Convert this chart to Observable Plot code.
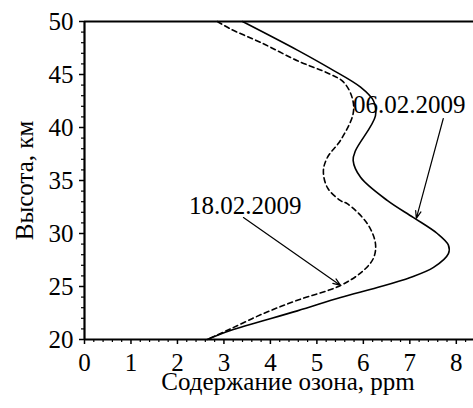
<!DOCTYPE html>
<html>
<head>
<meta charset="utf-8">
<script src="https://cdn.jsdelivr.net/npm/d3@7"></script>
<script src="https://cdn.jsdelivr.net/npm/@observablehq/plot@0.6"></script>
<style>
  html, body { margin: 0; padding: 0; background: #fff; }
  svg, svg text { font-family: "Liberation Serif", "Times New Roman", serif !important; }
</style>
</head>
<body>
<div id="chart"></div>
<script>
// 06.02.2009 profile (solid)
const solidX = [3.40, 4.58, 5.29, 5.94, 6.22, 6.26, 5.83, 5.78, 5.94, 6.52, 7.08, 7.59, 7.83, 7.83, 7.51, 7.01, 6.30, 5.51, 4.58, 3.14, 2.64];
const solidY = [50.0, 47.3, 45.55, 43.8, 42.5, 41.1, 37.8, 36.9, 35.3, 33.1, 31.5, 30.0, 28.9, 28.1, 26.8, 25.85, 24.9, 23.96, 22.7, 20.85, 20.0];
// 18.02.2009 profile (dashed)
const dashX = [2.86, 3.14, 3.85, 4.58, 5.25, 5.57, 5.76, 5.78, 5.51, 5.23, 5.14, 5.23, 5.51, 5.66, 6.09, 6.26, 6.22, 6.00, 5.51, 4.58, 3.85, 3.14, 2.64];
const dashY = [50.0, 49.3, 47.9, 46.3, 45.1, 44.3, 42.8, 41.3, 38.8, 37.2, 35.9, 34.3, 33.1, 32.8, 30.9, 29.06, 27.7, 26.5, 25.1, 23.7, 22.45, 21.0, 20.0];

const labels = ["06.02.2009", "18.02.2009"];
const labelX = [6.99, 3.46];
const labelY = [42.1, 32.6];
const arrowX1 = [7.72, 3.42];
const arrowY1 = [40.85, 31.5];
const arrowX2 = [7.14, 5.51];
const arrowY2 = [31.42, 25.1];

const xTicks = [0, 1, 2, 3, 4, 5, 6, 7, 8];
const yTicks = [20, 25, 30, 35, 40, 45, 50];
const xMinor = d3.range(0, 42).map(i => i * 0.2).filter(v => Math.abs(v - Math.round(v)) > 1e-6);
const yMinor = d3.range(20, 51).filter(v => v % 5 !== 0);

const xLabel = "Содержание озона, ppm";
const yLabel = "Высота, км";

const solid = solidX.map((x, i) => ({x, y: solidY[i]}));
const dashed = dashX.map((x, i) => ({x, y: dashY[i]}));
const ann = labels.map((t, i) => ({t, x: labelX[i], y: labelY[i]}));
const arrows = arrowX1.map((x1, i) => ({x1, y1: arrowY1[i], x2: arrowX2[i], y2: arrowY2[i]}));

const font = "Liberation Serif";

const chart = Plot.plot({
  width: 473,
  height: 408,
  marginTop: 21,
  marginBottom: 69,
  marginLeft: 84,
  marginRight: 0,
  style: {background: "#fff", color: "#000"},
  x: {domain: [0, 8.37]},
  y: {domain: [20, 50]},
  marks: [
    Plot.axisX({ticks: xMinor, tickSize: 3, tickFormat: () => "", strokeWidth: 1.2}),
    Plot.axisX({ticks: xTicks, tickSize: 5, tickPadding: 9, fontSize: 25, fontFamily: font, tickFormat: d => String(d), label: null, strokeWidth: 1.5}),
    Plot.axisY({ticks: yMinor, tickSize: 3, tickFormat: () => "", strokeWidth: 1.2}),
    Plot.axisY({ticks: yTicks, tickSize: 5, tickPadding: 6, fontSize: 25, fontFamily: font, tickFormat: d => String(d), label: null, strokeWidth: 1.5}),
    Plot.ruleY([20], {strokeWidth: 2.2}),
    Plot.ruleY([50], {strokeWidth: 2.2}),
    Plot.ruleX([0], {strokeWidth: 2.2}),
    Plot.line(dashed, {x: "x", y: "y", curve: "catmull-rom", stroke: "#000", strokeWidth: 1.6, strokeDasharray: "5,3.5"}),
    Plot.line(solid, {x: "x", y: "y", curve: "catmull-rom", stroke: "#000", strokeWidth: 1.6}),
    Plot.arrow(arrows, {x1: "x1", y1: "y1", x2: "x2", y2: "y2", stroke: "#000", strokeWidth: 1.2, headLength: 10, headAngle: 40}),
    Plot.text(ann, {x: "x", y: "y", text: "t", fontSize: 25, fontFamily: font, fill: "#000", textAnchor: "middle"}),
    Plot.text([xLabel], {frameAnchor: "bottom", text: d => d, dy: 42, dx: 9, fontSize: 25, fontFamily: font, fill: "#000", textAnchor: "middle", lineAnchor: "middle"}),
    Plot.text([yLabel], {frameAnchor: "left", text: d => d, dx: -60, rotate: -90, fontSize: 25, fontFamily: font, fill: "#000", textAnchor: "middle", lineAnchor: "middle"})
  ]
});
document.getElementById("chart").appendChild(chart);
</script>
</body>
</html>
